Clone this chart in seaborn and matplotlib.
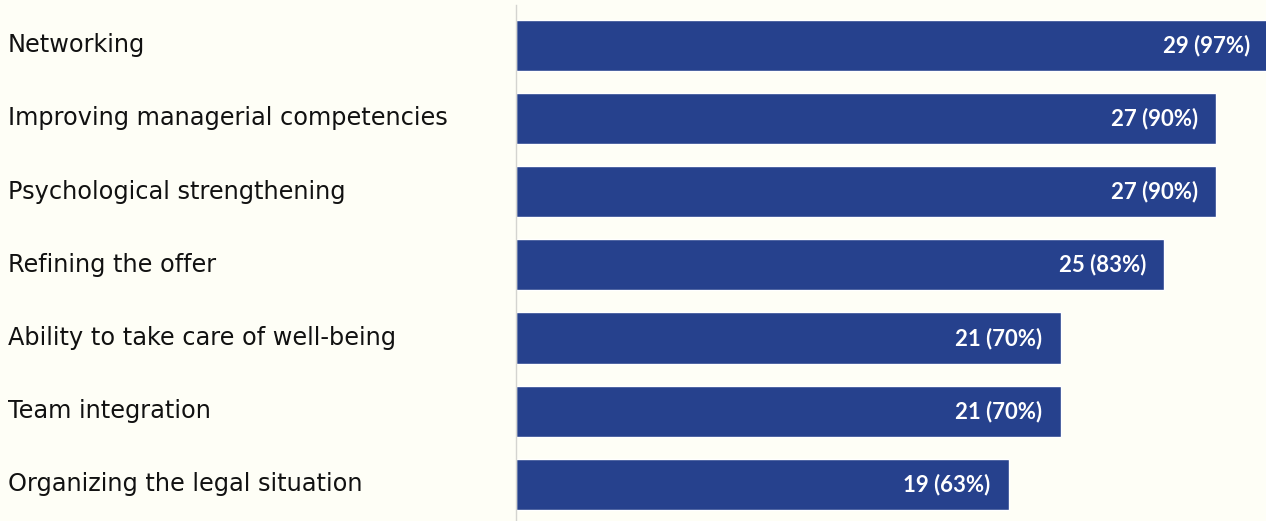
import matplotlib
matplotlib.use("Agg")
import matplotlib.pyplot as plt
import seaborn as sns
import pandas as pd

categories = [
    "Networking",
    "Improving managerial competencies",
    "Psychological strengthening",
    "Refining the offer",
    "Ability to take care of well-being",
    "Team integration",
    "Organizing the legal situation",
]
counts = [29, 27, 27, 25, 21, 21, 19]
percents = [97, 90, 90, 83, 70, 70, 63]

bg = "#fefef6"
bar_color = "#26418d"

sns.set_theme(style="white")
plt.rcParams["font.family"] = ["DejaVu Sans"]

df = pd.DataFrame({"category": categories, "count": counts})

fig = plt.figure(figsize=(12.66, 5.21), dpi=100, facecolor=bg)
ax = fig.add_axes([516 / 1266, 0, 750 / 1266, 516 / 521])
ax.set_facecolor(bg)

sns.barplot(data=df, x="count", y="category", orient="h", color=bar_color,
            saturation=1, width=0.7, ax=ax)

ax.set_xlim(0, 28.92)
ax.set_ylim(6.5, -0.55)
ax.set_xlabel("")
ax.set_ylabel("")
ax.set_xticks([])

for s in ["top", "right", "bottom"]:
    ax.spines[s].set_visible(False)
ax.spines["left"].set_color("#d4d4d0")
ax.spines["left"].set_linewidth(1)

ax.tick_params(axis="y", length=0, pad=508 * 72 / 100)
for lab in ax.get_yticklabels():
    lab.set_ha("left")
    lab.set_fontsize(17.3)
    lab.set_color("#111111")
    lab.set_va("center")

for i, (c, p) in enumerate(zip(counts, percents)):
    ax.annotate(f"{c} ({p}%)", xy=(c, i), xytext=(-13, 0), textcoords="offset points",
                ha="right", va="center", color="white", fontsize=16, fontweight="bold",
                family="Lato", annotation_clip=False)

fig.savefig("out.png", dpi=100, facecolor=bg)
